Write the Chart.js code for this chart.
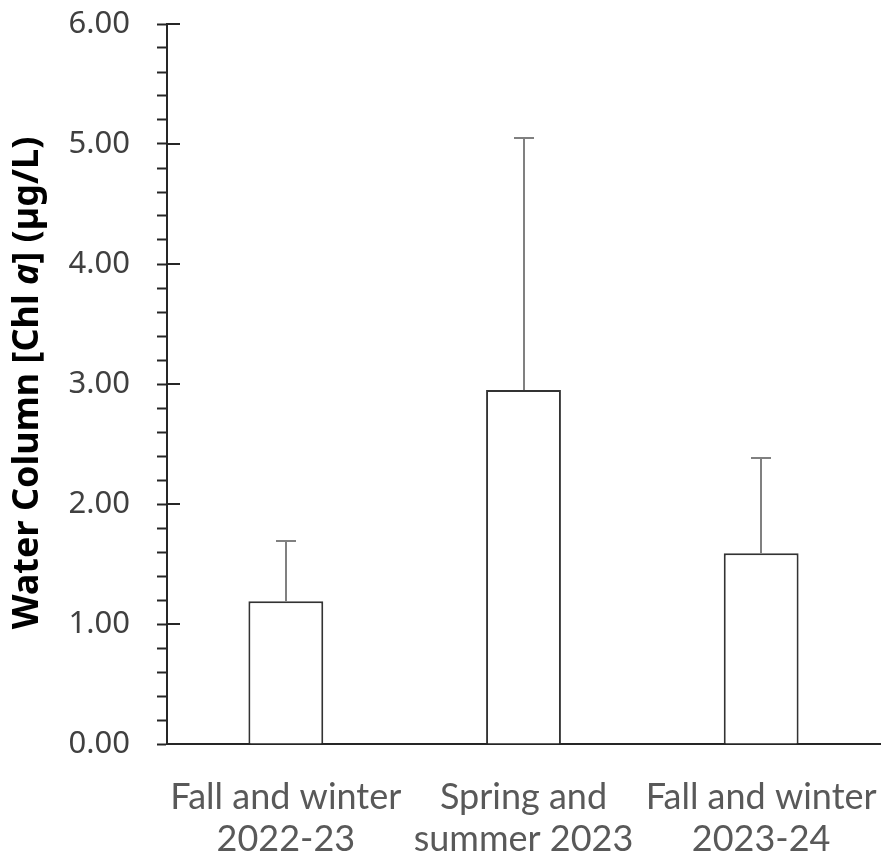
<!DOCTYPE html>
<html>
<head>
<meta charset="utf-8">
<script src="https://cdn.jsdelivr.net/npm/chart.js@4.4.1/dist/chart.umd.min.js"></script>
<style>
  html, body { margin: 0; padding: 0; background: #ffffff; }
  #wrap { width: 883px; height: 859px; position: relative; }
</style>
</head>
<body>
<div id="wrap"><canvas id="c" width="883" height="859"></canvas></div>
<script>
const categories = [["Fall and winter", "2022-23"], ["Spring and", "summer 2023"], ["Fall and winter", "2023-24"]];
const means = [1.19, 2.95, 1.59];
const upperErrors = [1.69, 5.05, 2.38];
const yTitleParts = [
  { text: "Water Column [Chl ", italic: false },
  { text: "a", italic: true },
  { text: "] (µg/L)", italic: false }
];

const AXIS_COLOR = '#262626';
const SANS = '"Noto Sans", "Open Sans", sans-serif';
const XFONT = 'Lato, "Noto Sans", sans-serif';

const errorBarPlugin = {
  id: 'errorBars',
  afterDatasetsDraw(chart) {
    const ctx = chart.ctx;
    const meta = chart.getDatasetMeta(0);
    const y = chart.scales.y;
    ctx.save();
    ctx.strokeStyle = '#808080';
    ctx.lineWidth = 2;
    meta.data.forEach((bar, i) => {
      const x = Math.round(bar.x);
      const y0 = y.getPixelForValue(means[i]);
      const y1 = Math.round(y.getPixelForValue(upperErrors[i]));
      ctx.beginPath();
      ctx.moveTo(x, y0);
      ctx.lineTo(x, y1);
      ctx.moveTo(x - 10, y1);
      ctx.lineTo(x + 10, y1);
      ctx.stroke();
    });
    ctx.restore();
  }
};

const majorTickPlugin = {
  id: 'majorTicks',
  afterDraw(chart) {
    const ctx = chart.ctx;
    const y = chart.scales.y;
    const left = chart.chartArea.left;
    ctx.save();
    ctx.strokeStyle = AXIS_COLOR;
    ctx.lineWidth = 2;
    y.ticks.forEach(t => {
      if (Math.abs(t.value - Math.round(t.value)) < 1e-6) {
        const py = Math.round(y.getPixelForValue(t.value));
        ctx.beginPath();
        ctx.moveTo(left, py);
        ctx.lineTo(left + 13, py);
        ctx.stroke();
      }
    });
    ctx.restore();
  }
};

const yTitlePlugin = {
  id: 'yTitle',
  afterDraw(chart) {
    const ctx = chart.ctx;
    const size = 36;
    ctx.save();
    ctx.fillStyle = '#000000';
    ctx.textBaseline = 'middle';
    ctx.textAlign = 'left';
    let total = 0;
    const widths = yTitleParts.map(p => {
      ctx.font = (p.italic ? 'italic ' : '') + 'bold ' + size + 'px ' + SANS;
      const w = ctx.measureText(p.text).width;
      total += w;
      return w;
    });
    ctx.translate(28, 383);
    ctx.rotate(-Math.PI / 2);
    let x = -total / 2;
    yTitleParts.forEach((p, i) => {
      ctx.font = (p.italic ? 'italic ' : '') + 'bold ' + size + 'px ' + SANS;
      ctx.fillText(p.text, x, 0);
      x += widths[i];
    });
    ctx.restore();
  }
};

function build() {
  new Chart(document.getElementById('c'), {
    type: 'bar',
    data: {
      labels: categories,
      datasets: [{
        data: means,
        backgroundColor: '#ffffff',
        borderColor: '#333333',
        borderWidth: 2,
        categoryPercentage: 1.0,
        barPercentage: 0.315
      }]
    },
    options: {
      responsive: false,
      animation: false,
      events: [],
      layout: { padding: { left: 0, right: 3, top: 24, bottom: 0 } },
      plugins: {
        legend: { display: false },
        tooltip: { enabled: false }
      },
      scales: {
        x: {
          grid: { display: true, drawOnChartArea: false, drawTicks: false },
          border: { display: true, color: AXIS_COLOR, width: 2 },
          ticks: {
            color: '#595959',
            font: { family: XFONT, size: 36, lineHeight: 1.17 },
            padding: 32,
            maxRotation: 0,
            autoSkip: false
          },
          afterFit(scale) { scale.height = 115; scale.paddingLeft = 0; scale.paddingRight = 0; }
        },
        y: {
          min: 0,
          max: 6,
          grid: { display: true, drawOnChartArea: false, drawTicks: true, tickLength: 10, color: AXIS_COLOR, tickWidth: 2 },
          border: { display: true, color: AXIS_COLOR, width: 2 },
          ticks: {
            stepSize: 0.2,
            autoSkip: false,
            color: '#404040',
            padding: 27,
            font: { family: SANS, size: 31 },
            callback(v) {
              return Math.abs(v - Math.round(v)) < 1e-6 ? Math.round(v).toFixed(2) : '';
            }
          },
          afterFit(scale) { scale.width = 167; scale.paddingTop = 0; scale.paddingBottom = 0; }
        }
      }
    },
    plugins: [errorBarPlugin, majorTickPlugin, yTitlePlugin]
  });
}

Promise.all([
  document.fonts.load('31px "Noto Sans"'),
  document.fonts.load('bold 36px "Noto Sans"'),
  document.fonts.load('italic bold 36px "Noto Sans"'),
  document.fonts.load('36px Lato')
]).catch(() => {}).then(build);
</script>
</body>
</html>
